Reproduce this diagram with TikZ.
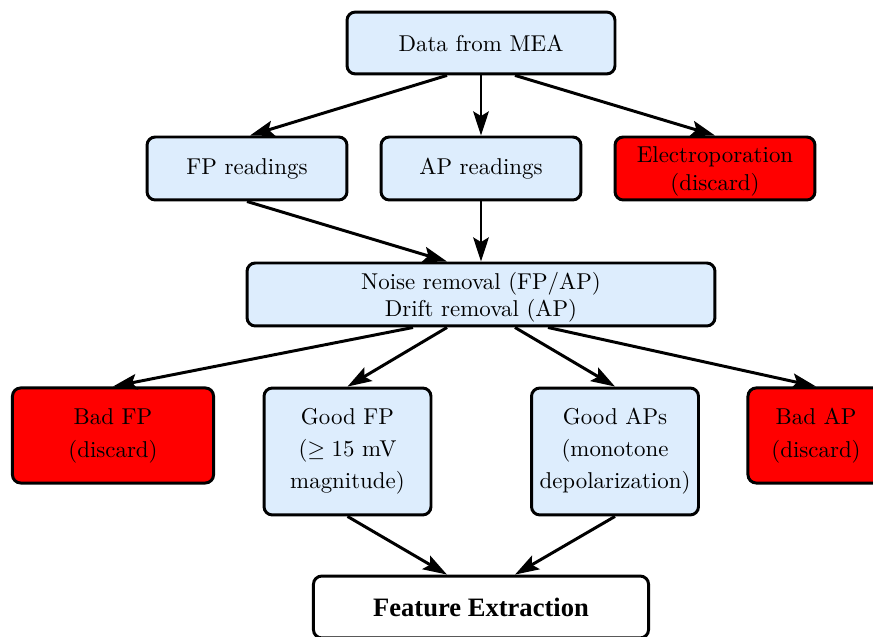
\documentclass[tikz,border=0pt]{standalone}
\usepackage{fontspec}
\newfontfamily\fefont{Liberation Serif}
\usetikzlibrary{arrows.meta,calc}
\definecolor{boxblue}{RGB}{221,237,253}
\definecolor{boxred}{RGB}{255,0,0}
\newcommand{\lowr}[1]{\raisebox{-1.3pt}[\height][\depth]{#1}}
\tikzset{
  box/.style={draw=black, line width=1.3pt, rounded corners=3.6pt, fill=boxblue, align=center, inner sep=0pt, font=\normalsize},
  redbox/.style={box, fill=boxred},
  conn/.style={line width=1.3pt, -{Stealth[length=10.5pt,width=6.8pt,inset=2pt]}}
}
\begin{document}
\begin{tikzpicture}[x=0.4366pt,y=-0.4366pt]
\useasboundingbox (0,0) rectangle (873,637);
\node[box, minimum width=117pt, minimum height=27pt] (data) at (481,43) {Data from MEA};
\node[box, minimum width=87.3pt, minimum height=27.5pt] (fp) at (247,168.5) {FP readings};
\node[box, minimum width=87.3pt, minimum height=27.5pt] (ap) at (481,168.5) {AP readings};
\node[redbox, minimum width=87.3pt, minimum height=27.5pt, font={\fontsize{10pt}{12.2pt}\selectfont}] (ep) at (715,168.5) {\lowr{Electroporation}\\\lowr{(discard)}};
\node[box, minimum width=204.3pt, minimum height=27.5pt, font={\fontsize{10pt}{11.8pt}\selectfont}] (noise) at (481,294.5) {\lowr{Noise removal (FP/AP)}\\\lowr{Drift removal (AP)}};
\node[redbox, minimum width=87.8pt, minimum height=41.5pt, font={\fontsize{10pt}{14.4pt}\selectfont}] (badfp) at (113,435.5) {Bad FP\\(discard)};
\node[box, minimum width=72.9pt, minimum height=55.4pt, font={\fontsize{10pt}{14pt}\selectfont}] (goodfp) at (347.5,451.5) {Good FP\\($\geq 15$ mV\\magnitude)};
\node[box, minimum width=72.9pt, minimum height=55.4pt, font={\fontsize{10pt}{14pt}\selectfont}] (goodap) at (615,451.5) {Good APs\\(monotone\\depolarization)};
\node[redbox, minimum width=59.4pt, minimum height=41.5pt, font={\fontsize{10pt}{14.4pt}\selectfont}] (badap) at (816,435.5) {Bad AP\\(discard)};
\node[box, fill=white, minimum width=146.3pt, minimum height=27pt] (fe) at (481,607) {\fefont\bfseries\fontsize{11.6pt}{13pt}\selectfont Feature Extraction};
\draw[conn] ($(data.south)+(-34,0)$) -- ($(fp.north)+(3,0)$);
\draw[conn] (data.south) -- (ap.north);
\draw[conn] ($(data.south)+(34,0)$) -- (ep.north);
\draw[conn] (fp.south) -- ($(noise.north)+(-34,0)$);
\draw[conn] (ap.south) -- (noise.north);
\draw[conn] ($(noise.south)+(-68,0)$) -- (badfp.north);
\draw[conn] ($(noise.south)+(-34,0)$) -- (goodfp.north);
\draw[conn] ($(noise.south)+(34,0)$) -- (goodap.north);
\draw[conn] ($(noise.south)+(67,0)$) -- (badap.north);
\draw[conn] (goodfp.south) -- ($(fe.north)+(-34,0)$);
\draw[conn] (goodap.south) -- ($(fe.north)+(34,0)$);
\end{tikzpicture}
\end{document}
